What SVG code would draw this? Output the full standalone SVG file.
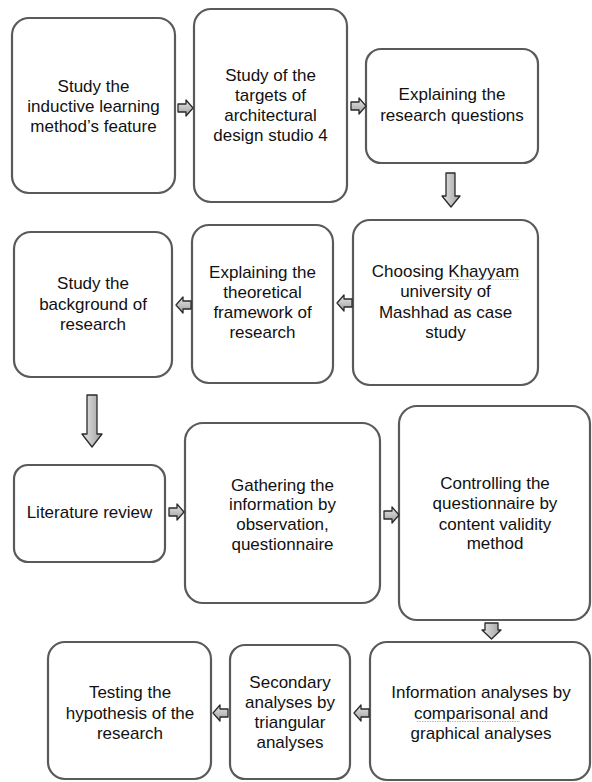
<svg xmlns="http://www.w3.org/2000/svg" width="592" height="782" viewBox="0 0 592 782">
<defs>
<linearGradient id="ag" x1="0" y1="0" x2="0" y2="1">
<stop offset="0" stop-color="#e6e6e6"/><stop offset="1" stop-color="#a0a0a0"/>
</linearGradient>
<linearGradient id="agh" x1="0" y1="0" x2="1" y2="0">
<stop offset="0" stop-color="#e6e6e6"/><stop offset="1" stop-color="#a0a0a0"/>
</linearGradient>
<path id="ra" d="M-7,-4 H1 V-8 L8,0 L1,8 V4 H-7 Z"/>
</defs>
<style>
.box{fill:#fff;stroke:#5a5a5a;stroke-width:2.2}
.t{font-family:"Liberation Sans",Arial,sans-serif;font-size:17px;fill:#111;text-anchor:middle}
.ar{fill:url(#ag);stroke:#2a2a2a;stroke-width:1.3;stroke-linejoin:round}
.arv{fill:url(#agh);stroke:#2a2a2a;stroke-width:1.3;stroke-linejoin:round}
.sq{fill:none;stroke:#e88;stroke-width:0.8;stroke-dasharray:1.5 1}
</style>
<rect width="592" height="782" fill="#fff"/>

<g id="n1"><rect class="box" x="12" y="18" width="163" height="175" rx="17"/>
<text class="t" x="93.5" y="92">Study the</text><text class="t" x="93.5" y="112">inductive learning</text><text class="t" x="93.5" y="132">method’s feature</text></g>

<g id="n2"><rect class="box" x="194" y="9" width="153" height="193" rx="17"/>
<text class="t" x="270.5" y="81">Study of the</text><text class="t" x="270.5" y="101">targets of</text><text class="t" x="270.5" y="121">architectural</text><text class="t" x="270.5" y="141">design studio 4</text></g>

<g id="n3"><rect class="box" x="366" y="49" width="172" height="114" rx="15"/>
<text class="t" x="452" y="100">Explaining the</text><text class="t" x="452" y="121">research questions</text></g>

<g id="n4"><rect class="box" x="353" y="220" width="185" height="165" rx="17"/>
<text class="t" x="445.5" y="277">Choosing Khayyam</text><text class="t" x="445.5" y="297">university of</text><text class="t" x="445.5" y="318">Mashhad as case</text><text class="t" x="445.5" y="338">study</text>
<path class="sq" d="M450,279.5 H520"/></g>

<g id="n5"><rect class="box" x="192" y="225" width="141" height="158" rx="17"/>
<text class="t" x="262.5" y="278">Explaining the</text><text class="t" x="262.5" y="298">theoretical</text><text class="t" x="262.5" y="318">framework of</text><text class="t" x="262.5" y="338">research</text></g>

<g id="n6"><rect class="box" x="14" y="232" width="158" height="145" rx="17"/>
<text class="t" x="93" y="289">Study the</text><text class="t" x="93" y="310">background of</text><text class="t" x="93" y="330">research</text></g>

<g id="n7"><rect class="box" x="14" y="465" width="151" height="97" rx="14"/>
<text class="t" x="89.5" y="518">Literature review</text></g>

<g id="n8"><rect class="box" x="185" y="423" width="195" height="180" rx="18"/>
<text class="t" x="282.5" y="491">Gathering the</text><text class="t" x="282.5" y="510">information by</text><text class="t" x="282.5" y="530">observation,</text><text class="t" x="282.5" y="550">questionnaire</text></g>

<g id="n9"><rect class="box" x="399" y="406" width="191" height="214" rx="18"/>
<text class="t" x="495" y="489">Controlling the</text><text class="t" x="495" y="509">questionnaire by</text><text class="t" x="495" y="530">content validity</text><text class="t" x="495" y="549">method</text></g>

<g id="n10"><rect class="box" x="370" y="642" width="220" height="138" rx="17"/>
<text class="t" x="481" y="698">Information analyses by</text><text class="t" x="481" y="719">comparisonal and</text><text class="t" x="481" y="739">graphical analyses</text>
<path class="sq" d="M417,721.5 H520"/></g>

<g id="n11"><rect class="box" x="230" y="645" width="120" height="134" rx="15"/>
<text class="t" x="290" y="688">Secondary</text><text class="t" x="290" y="708">analyses by</text><text class="t" x="290" y="728">triangular</text><text class="t" x="290" y="748">analyses</text></g>

<g id="n12"><rect class="box" x="48" y="642" width="163" height="137" rx="17"/>
<text class="t" x="130" y="698">Testing the</text><text class="t" x="130" y="719">hypothesis of the</text><text class="t" x="130" y="739">research</text></g>

<g id="connectors">
<use href="#ra" class="ar" transform="translate(185,108)"/>
<use href="#ra" class="ar" transform="translate(358,106)"/>
<path class="arv" d="M446,173 H455 V196 H460 L451,207 L442,196 H446 Z"/>
<use href="#ra" class="ar" transform="translate(184,305) scale(-1,1)"/>
<use href="#ra" class="ar" transform="translate(345,303) scale(-1,1)"/>
<path class="arv" d="M87,395 H97 V434 H102 L92,447 L82,434 H87 Z"/>
<use href="#ra" class="ar" transform="translate(176,512)"/>
<use href="#ra" class="ar" transform="translate(391,515)"/>
<path class="arv" d="M485,623 H498 V630 H501 L491.5,639 L482,630 H485 Z"/>
<use href="#ra" class="ar" transform="translate(221,713) scale(-1,1)"/>
<use href="#ra" class="ar" transform="translate(362,713) scale(-1,1)"/>
</g>
</svg>
